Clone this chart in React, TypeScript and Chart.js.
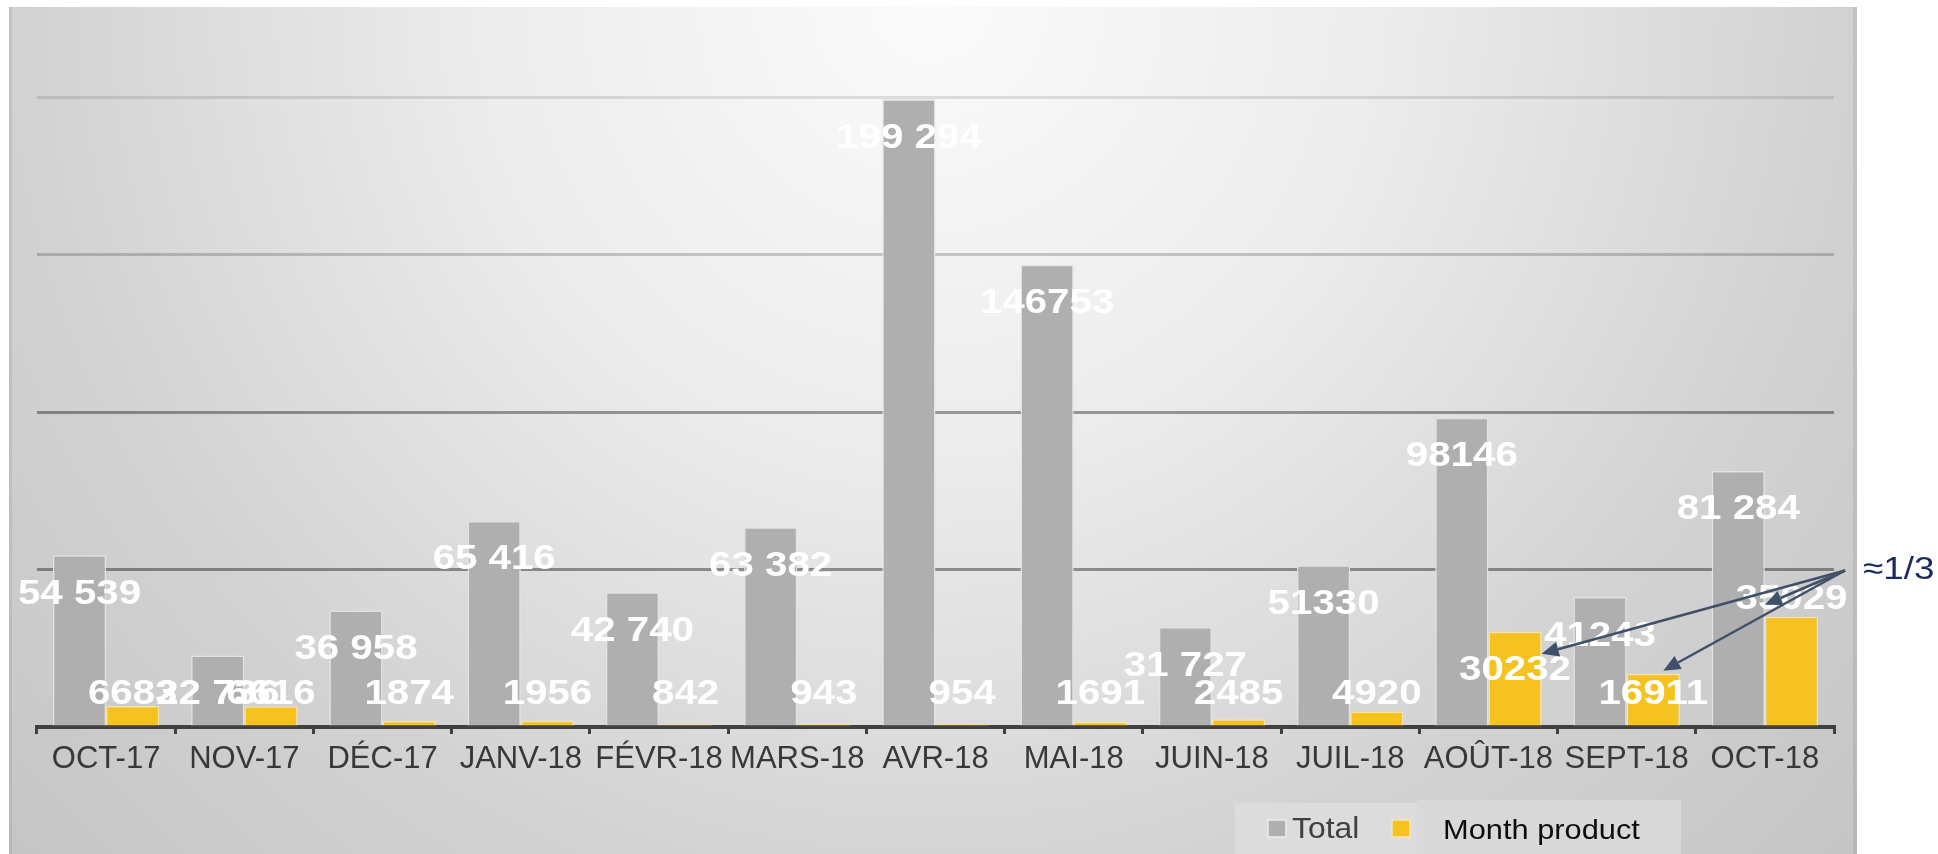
import React, { useEffect, useRef } from 'react';
import { Chart, registerables } from 'chart.js';

Chart.register(...registerables);

// ---- data ----
const categories = ['OCT-17', 'NOV-17', 'DÉC-17', 'JANV-18', 'FÉVR-18', 'MARS-18', 'AVR-18', 'MAI-18', 'JUIN-18', 'JUIL-18', 'AOÛT-18', 'SEPT-18', 'OCT-18'];
const totalValues = [54539, 22736, 36958, 65416, 42740, 63382, 199294, 146753, 31727, 51330, 98146, 41243, 81284];
const totalLabels = ['54 539', '22 736', '36 958', '65 416', '42 740', '63 382', '199 294', '146753', '31 727', '51330', '98146', '41243', '81 284'];
const monthValues = [6683, 6616, 1874, 1956, 842, 943, 954, 1691, 2485, 4920, 30232, 16911, 35029];
const monthLabels = ['6683', '6616', '1874', '1956', '842', '943', '954', '1691', '2485', '4920', '30232', '16911', '35029'];
const seriesNames = ['Total', 'Month product'];
const yTickValues = [0, 50000, 100000, 150000, 200000];
const annotationText = '≈1/3';
const annotatedMonths = ['AOÛT-18', 'SEPT-18', 'OCT-18'];

// ---- styles ----
const FONT = '"Liberation Sans", Arial, sans-serif';
const GRAY = '#afafaf';
const YELLOW = '#f6c21f';
const STRETCH = 1.15;

function drawText(ctx: CanvasRenderingContext2D, text: string, x: number, cy: number, size: number, weight: string, color: string, sx: number, align: CanvasTextAlign) {
  ctx.save();
  ctx.font = `${weight} ${size}px ${FONT}`;
  ctx.fillStyle = color;
  ctx.textAlign = align;
  ctx.textBaseline = 'alphabetic';
  ctx.translate(x, cy + size * 0.716 / 2);
  ctx.scale(sx, 1);
  ctx.fillText(text, 0, 0);
  ctx.restore();
}

const backgroundPlugin = {
  id: 'panelBg',
  beforeDraw(chart: any) {
    const ctx = chart.ctx as CanvasRenderingContext2D;
    const W = chart.width, H = chart.height;
    ctx.save();
    ctx.fillStyle = '#ffffff';
    ctx.fillRect(0, 0, W, H);
    const x0 = 9, y0 = 7, x1 = 1857, y1 = H;
    const g = ctx.createRadialGradient(930, 0, 0, 930, 0, 1300);
    g.addColorStop(0, '#fbfbfb');
    g.addColorStop(0.35, '#ececec');
    g.addColorStop(0.7, '#d2d2d2');
    g.addColorStop(1, '#c4c4c4');
    ctx.fillStyle = g;
    ctx.fillRect(x0, y0, x1 - x0, y1 - y0);
    ctx.fillStyle = 'rgba(0,0,0,0.07)';
    ctx.fillRect(x0, y0, 3, y1 - y0);
    ctx.fillRect(x1 - 4, y0, 4, y1 - y0);
    ctx.restore();
  },
};

const labelsPlugin = {
  id: 'valueLabels',
  afterDatasetsDraw(chart: any) {
    const ctx = chart.ctx as CanvasRenderingContext2D;
    const m0 = chart.getDatasetMeta(0);
    const m1 = chart.getDatasetMeta(1);
    m0.data.forEach((bar: any, i: number) => {
      drawText(ctx, totalLabels[i], bar.x, bar.y + 36, 35, 'bold', '#ffffff', STRETCH, 'center');
    });
    m1.data.forEach((bar: any, i: number) => {
      let cy = Math.min(bar.y + 36, bar.base - 34);
      if (categories[i] === 'OCT-18') cy = bar.y - 20;
      drawText(ctx, monthLabels[i], bar.x, cy, 35, 'bold', '#ffffff', STRETCH, 'center');
    });
  },
};

function arrow(ctx: CanvasRenderingContext2D, sx: number, sy: number, tx: number, ty: number) {
  const ang = Math.atan2(ty - sy, tx - sx);
  const L = 17, Wd = 7.5;
  const bx = tx - L * Math.cos(ang), by = ty - L * Math.sin(ang);
  ctx.beginPath();
  ctx.moveTo(sx, sy);
  ctx.lineTo(bx, by);
  ctx.stroke();
  ctx.beginPath();
  ctx.moveTo(tx, ty);
  ctx.lineTo(bx + Wd * Math.sin(ang), by - Wd * Math.cos(ang));
  ctx.lineTo(bx - Wd * Math.sin(ang), by + Wd * Math.cos(ang));
  ctx.closePath();
  ctx.fill();
}

const annotationPlugin = {
  id: 'ratioNote',
  afterDraw(chart: any) {
    const ctx = chart.ctx as CanvasRenderingContext2D;
    const meta = chart.getDatasetMeta(1);
    const yS = chart.scales.y;
    const sx = chart.chartArea.right + 11;
    const sy = yS.getPixelForValue(50000) + 1;
    ctx.save();
    ctx.strokeStyle = '#3f5069';
    ctx.fillStyle = '#3f5069';
    ctx.lineWidth = 2.5;
    annotatedMonths.forEach((name) => {
      const i = categories.indexOf(name);
      const bar = meta.data[i] as any;
      const w = bar.width;
      let tx = bar.x, ty = bar.y;
      if (name === 'AOÛT-18') { tx = bar.x + w / 2; ty = bar.y + 22; }
      else if (name === 'SEPT-18') { tx = bar.x + 10; ty = bar.y - 3; }
      else { tx = bar.x - w / 2; ty = bar.y - 12; }
      arrow(ctx, sx, sy, tx, ty);
    });
    ctx.restore();
    drawText(ctx, annotationText, 1863, sy - 3, 32, 'normal', '#1b2a5c', STRETCH, 'left');

    // legend
    ctx.save();
    ctx.fillStyle = '#dcdcdc';
    ctx.fillRect(1235, 803, 182, 51);
    ctx.fillStyle = '#d9d9d9';
    ctx.fillRect(1417, 800, 264, 54);
    ctx.lineWidth = 1.5;
    ctx.fillStyle = GRAY;
    ctx.strokeStyle = '#ececec';
    ctx.fillRect(1268, 820, 18, 17);
    ctx.strokeRect(1268, 820, 18, 17);
    ctx.fillStyle = YELLOW;
    ctx.strokeStyle = '#f7e7b4';
    ctx.fillRect(1392, 820, 18, 17);
    ctx.strokeRect(1392, 820, 18, 17);
    ctx.restore();
    drawText(ctx, seriesNames[0], 1292, 828, 29, 'normal', '#404040', 1.1, 'left');
    drawText(ctx, seriesNames[1], 1443, 829, 28, 'normal', '#0d0d0d', 1.1, 'left');
  },
};

function gridColor(v: number): string {
  if (v === 0) return 'rgba(0,0,0,0)';
  if (v >= 200000) return 'rgba(0,0,0,0.11)';
  if (v >= 150000) return 'rgba(0,0,0,0.19)';
  if (v >= 100000) return 'rgba(0,0,0,0.37)';
  return 'rgba(0,0,0,0.39)';
}

export default function App() {
  const ref = useRef<HTMLCanvasElement | null>(null);
  useEffect(() => {
    document.body.style.margin = '0';
    document.body.style.overflow = 'hidden';
    const canvas = ref.current;
    if (!canvas) return;
    const chart = new Chart(canvas, {
      type: 'bar',
      data: {
        labels: categories,
        datasets: [
          {
            label: seriesNames[0],
            data: totalValues,
            backgroundColor: GRAY,
            borderColor: '#e2e2e2',
            borderWidth: 1.5,
            categoryPercentage: 0.77,
            barPercentage: 1.0,
          },
          {
            label: seriesNames[1],
            data: monthValues,
            backgroundColor: YELLOW,
            borderColor: '#f9e3a0',
            borderWidth: 1.5,
            categoryPercentage: 0.77,
            barPercentage: 1.0,
          },
        ],
      },
      options: {
        responsive: false,
        animation: false,
        events: [],
        layout: { padding: { left: 37, right: 104, top: 97, bottom: 0 } },
        plugins: {
          legend: { display: false },
          tooltip: { enabled: false },
          title: { display: false },
        },
        scales: {
          x: {
            position: 'bottom',
            grid: {
              display: true,
              drawOnChartArea: false,
              drawTicks: true,
              tickLength: 7,
              color: '#404040',
              lineWidth: 3,
              offset: true,
            },
            border: { display: true, color: '#404040', width: 4 },
            ticks: {
              color: '#383838',
              font: { family: FONT, size: 31 },
              padding: 7,
              maxRotation: 0,
              autoSkip: false,
            },
            afterFit: (scale: any) => { scale.height = 127; },
          },
          y: {
            min: 0,
            max: 200000,
            afterBuildTicks: (scale: any) => { scale.ticks = yTickValues.map((v) => ({ value: v })); },
            grid: {
              color: (c: any) => gridColor(c.tick ? c.tick.value : 0),
              lineWidth: 3,
              drawTicks: false,
            },
            border: { display: false },
            ticks: { display: false },
            afterFit: (scale: any) => { scale.width = 0; },
          },
        },
      },
      plugins: [backgroundPlugin, labelsPlugin, annotationPlugin],
    } as any);
    return () => chart.destroy();
  }, []);
  return (
    <div style={{ width: 1938, height: 854, position: 'relative' }}>
      <canvas ref={ref} width={1938} height={854} style={{ display: 'block', width: 1938, height: 854 }} />
    </div>
  );
}
